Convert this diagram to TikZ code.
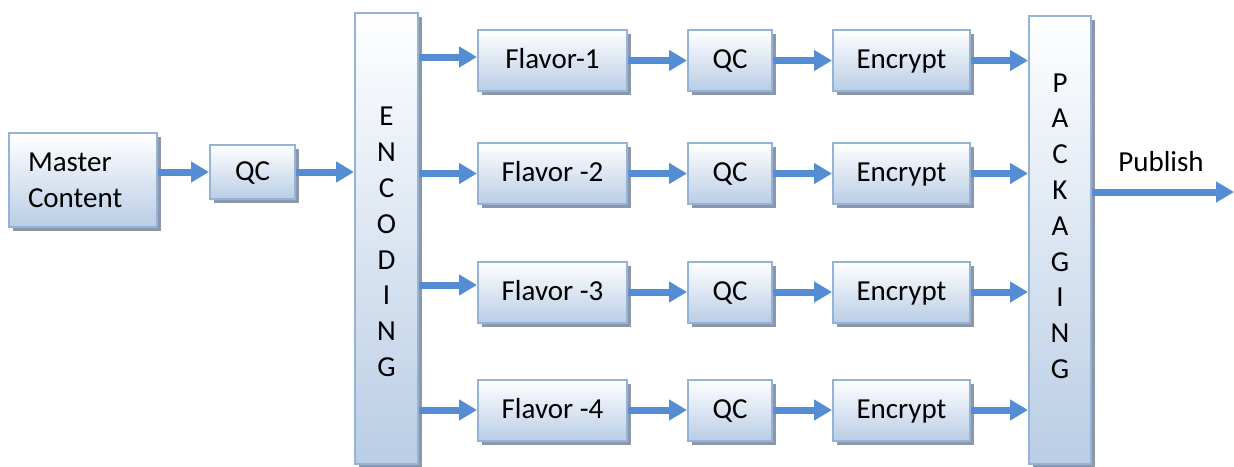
\documentclass[tikz,border=0pt]{standalone}
\usepackage{fontspec}
\setmainfont{Carlito}
\usetikzlibrary{arrows.meta,shadows,calc}
\definecolor{bordc}{RGB}{149,179,215}
\definecolor{botc}{RGB}{185,205,229}
\definecolor{shc}{RGB}{140,152,170}
\definecolor{arrc}{RGB}{84,141,212}
\begin{document}
\begin{tikzpicture}[x=0.5pt,y=-0.5pt,
  box/.style={draw=bordc, line width=1pt, top color=white, bottom color=botc,
    drop shadow={shadow xshift=2pt, shadow yshift=-2pt, fill=shc, opacity=1},
    inner sep=0pt, font=\fontsize{14.5}{18}\selectfont},
  onebox/.style={box, text height=10pt, text depth=2pt},
  vtext/.style={align=center, inner sep=0pt, font=\fontsize{14.5}{17.9}\selectfont},
  flow/.style={draw=arrc, line width=3.5pt, -{Triangle[length=9pt,width=10pt]}},
  lbl/.style={inner sep=0pt, font=\fontsize{14.5}{18}\selectfont}]
\useasboundingbox (0,0) rectangle (1234,466);

\node[box, minimum width=74pt, minimum height=47pt, text width=55pt, align=left] (master) at (83,180) {Master\\Content};
\node[onebox, minimum width=42.5pt, minimum height=27pt] (qc0) at (252.5,172) {QC};
\node[box, minimum width=31.5pt, minimum height=225.5pt] (enc) at (386.5,238.5) {};
\node[vtext] (enctxt) at (386.5,242) {E\\N\\C\\O\\D\\I\\N\\G};
\node[box, minimum width=31pt, minimum height=224pt] (pack) at (1060,240) {};
\node[vtext] (packtxt) at (1060,226) {P\\A\\C\\K\\A\\G\\I\\N\\G};

\foreach \i/\y/\fl in {1/60.5/{Flavor-1},2/173.5/{Flavor -2},3/292/{Flavor -3},4/410/{Flavor -4}}{
  \node[onebox, minimum width=74.5pt, minimum height=30.5pt] (f\i) at (552.5,\y) {\fl};
  \node[onebox, minimum width=42pt, minimum height=30.5pt] (q\i) at (730,\y) {QC};
  \node[onebox, minimum width=68.5pt, minimum height=30.5pt] (e\i) at (901.5,\y) {Encrypt};
  \draw[flow] (f\i) -- (q\i);
  \draw[flow] (q\i) -- (e\i);
  \draw[flow] (e\i) -- (pack.west |- e\i);
}
\draw[flow] (enc.east |- 0,57) -- (f1.west |- 0,57);
\draw[flow] (enc.east |- f2) -- (f2.west);
\draw[flow] (enc.east |- 0,285) -- (f3.west |- 0,285);
\draw[flow] (enc.east |- f4) -- (f4.west);

\draw[flow] (master.east |- qc0) -- (qc0);
\draw[flow] (qc0) -- (enc.west |- qc0);

\coordinate (pubend) at (1234,192);
\draw[flow] (pack.east |- pubend) -- (pubend);
\node[lbl] (pub) at (1161,162) {Publish};
\end{tikzpicture}
\end{document}
